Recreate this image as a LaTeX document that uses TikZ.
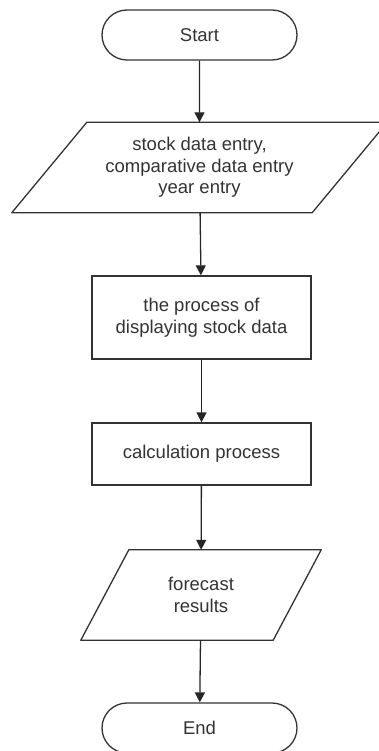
\documentclass[tikz,border=0pt]{standalone}
\usepackage{fontspec}
\setmainfont{Liberation Sans}
\usetikzlibrary{arrows.meta,shapes.misc}
\pgfmathsetmacro{\slantA}{37.5}
\pgfmathsetmacro{\slantB}{24}

\begin{document}
\begin{tikzpicture}[x=1pt,y=-1pt,
    every node/.style={text=black!80,font=\fontsize{18.5}{21.5}\selectfont},
    termstyle/.style={rounded rectangle,draw=black!80,line width=1.3pt,
        minimum width=195pt,minimum height=50pt,inner sep=0pt},
    procstyle/.style={rectangle,draw=black!80,line width=1.3pt,
        minimum width=219pt,inner sep=0pt,align=center},
    iostyle/.style={rectangle,inner sep=0pt,align=center},
    iobox/.style={draw=black!80,line width=1.3pt,line join=round},
    flow/.style={draw=black!85,line width=1.3pt,-{Triangle[length=10pt,width=10pt]}}]
    \useasboundingbox (0,0) rectangle (379,751);
    \clip (0,0) rectangle (379,751);
    \node[termstyle] (start) at (199.5,35) {Start};
    \node[iostyle,minimum width=300pt,minimum height=90pt] (input) at (199.5,167.5)
        {stock data entry,\\comparative data entry\\year entry};
    \node[procstyle,minimum height=83pt] (disp) at (201.5,317.5)
        {the process of\\displaying stock data};
    \node[procstyle,minimum height=62pt] (calc) at (201.5,454) {calculation process};
    \node[iostyle,minimum width=192pt,minimum height=90pt] (output) at (201,595)
        {forecast\\results};
    \node[termstyle] (stop) at (199.5,728) {End};
    % parallelograms round the io nodes
    \draw[iobox] ([xshift=-\slantA pt]input.south west) -- ([xshift=\slantA pt]input.north west)
        -- ([xshift=\slantA pt]input.north east) -- ([xshift=-\slantA pt]input.south east) -- cycle;
    \draw[iobox] ([xshift=-\slantB pt]output.south west) -- ([xshift=\slantB pt]output.north west)
        -- ([xshift=\slantB pt]output.north east) -- ([xshift=-\slantB pt]output.south east) -- cycle;
    \foreach \a/\b in {start/input,input/disp,disp/calc,calc/output,output/stop}
        \draw[flow] (\a) -- (\b);
\end{tikzpicture}
\end{document}
